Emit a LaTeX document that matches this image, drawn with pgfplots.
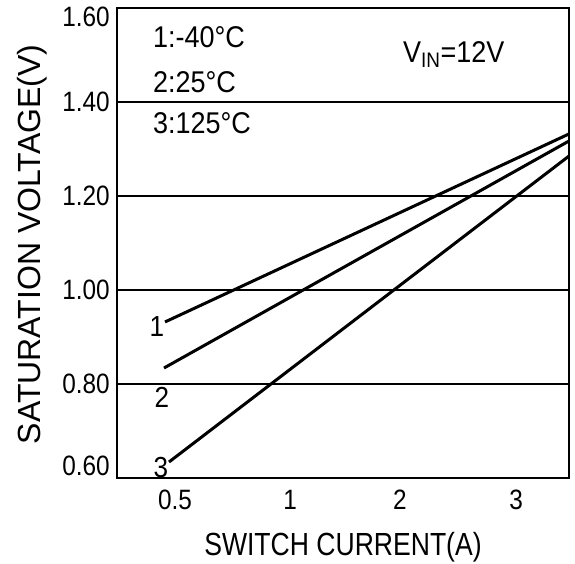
\documentclass[border=0pt]{standalone}
\usepackage{pgfplots}
\pgfplotsset{compat=1.18}
\usepackage{fontspec}
\setmainfont{Liberation Sans}
\newfontfamily\tickfont{Liberation Sans}[FakeStretch=0.87]
\newfontfamily\annfont{Liberation Sans}[FakeStretch=0.9]
\newfontfamily\xlabfont{Liberation Sans}[FakeStretch=0.83]
\begin{document}
\begin{tikzpicture}
\begin{axis}[
  scale only axis, width=452pt, height=470pt,
  xmin=-0.513, xmax=3.487, ymin=0.6, ymax=1.6,
  xtick={0,1.02,1.99,3.02}, xticklabels={0.5,1,2,3},
  ytick={0.6,0.8,1.0,1.2,1.4,1.6},
  yticklabels={\raisebox{12pt}[\height][\depth]{0.60},0.80,1.00,1.20,1.40,\raisebox{-9pt}[\height][\depth]{1.60}},
  /pgf/number format/assume math mode=true,
  major tick length=0pt,
  ymajorgrids, grid style={black, line width=2pt},
  axis line style={line width=2pt},
  ticklabel style={font=\tickfont\fontsize{28}{30}\selectfont, inner sep=0pt},
  yticklabel style={anchor=east, xshift=-7pt},
  xticklabel style={anchor=base, yshift=-32pt},
  xlabel={SWITCH CURRENT(A)},
  ylabel={SATURATION VOLTAGE(V)},
  xlabel style={font=\xlabfont\fontsize{32}{36}\selectfont, at={(axis description cs:0.5,-0.164)}, anchor=base, inner sep=0pt},
  ylabel style={font=\fontsize{32}{36}\selectfont, at={(axis description cs:-0.170,0.497)}, anchor=base, inner sep=0pt},
  clip=true,
]
\addplot[black, line width=3pt] coordinates {(-0.088,0.932) (3.487,1.332)};
\addplot[black, line width=3pt] coordinates {(-0.097,0.834) (3.487,1.317)};
\addplot[black, line width=3pt] coordinates {(-0.053,0.634) (3.487,1.285)};
\node[font=\annfont\fontsize{29}{32}\selectfont, anchor=base, inner sep=0pt] at (axis cs:-0.16,0.900) {1};
\node[font=\annfont\fontsize{29}{32}\selectfont, anchor=base, inner sep=0pt] at (axis cs:-0.115,0.749) {2};
\node[font=\annfont\fontsize{29}{32}\selectfont, anchor=base, inner sep=0pt] at (axis cs:-0.124,0.602) {3};
\node[font=\annfont\fontsize{30}{32}\selectfont, anchor=base west, inner sep=0pt] at (axis cs:-0.195,1.515) {1:-40°C};
\node[font=\annfont\fontsize{30}{32}\selectfont, anchor=base west, inner sep=0pt] at (axis cs:-0.195,1.421) {2:25°C};
\node[font=\annfont\fontsize{30}{32}\selectfont, anchor=base west, inner sep=0pt] at (axis cs:-0.195,1.334) {3:125°C};
\node[font=\annfont\fontsize{30}{32}\selectfont, anchor=base west, inner sep=0pt] at (axis cs:2.018,1.485) {V\textsubscript{IN}=12V};
\coordinate (SW) at (rel axis cs:0,0);
\end{axis}
\pgfresetboundingbox
\path (SW) ++(-117pt,-86pt) rectangle ++(575pt,564pt);
\end{tikzpicture}
\end{document}
